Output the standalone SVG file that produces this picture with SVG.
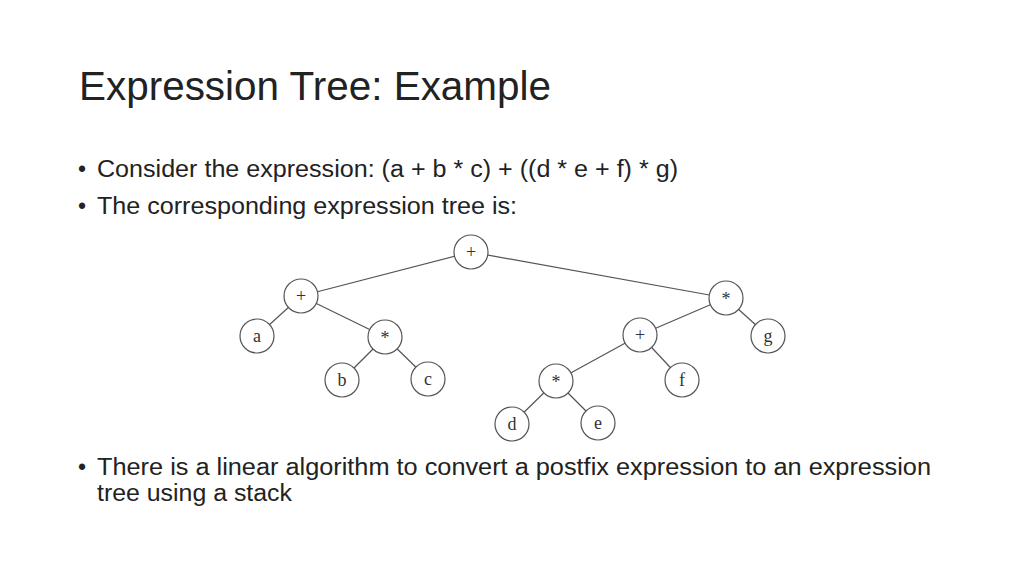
<svg xmlns="http://www.w3.org/2000/svg" width="1024" height="576" viewBox="0 0 1024 576">
<style>
.t{font-family:"Liberation Sans",Calibri,sans-serif;fill:#222}
.n circle{fill:#fff;stroke:#555;stroke-width:1.2}
.n text{font-family:"Liberation Serif",serif;font-size:18px;fill:#333;text-anchor:middle}
#edges line{stroke:#555;stroke-width:1.2}
</style>
<rect width="1024" height="576" fill="#fff"/>
<text class="t" x="79" y="100" font-size="40" fill="#333" textLength="472" lengthAdjust="spacingAndGlyphs">Expression Tree: Example</text>
<text class="t" x="78" y="177" font-size="23">•</text>
<text class="t" x="97" y="177" font-size="23" textLength="581" lengthAdjust="spacingAndGlyphs">Consider the expression: (a + b * c) + ((d * e + f) * g)</text>
<text class="t" x="78" y="214" font-size="23">•</text>
<text class="t" x="97" y="214" font-size="23" textLength="420" lengthAdjust="spacingAndGlyphs">The corresponding expression tree is:</text>
<text class="t" x="78" y="475" font-size="23">•</text>
<text class="t" x="97" y="475" font-size="23" textLength="834" lengthAdjust="spacingAndGlyphs">There is a linear algorithm to convert a postfix expression to an expression</text>
<text class="t" x="97" y="501" font-size="23" textLength="195" lengthAdjust="spacingAndGlyphs">tree using a stack</text>
<g id="edges">
<line x1="471" y1="252" x2="301" y2="296"/><line x1="471" y1="252" x2="726" y2="298"/>
<line x1="301" y1="296" x2="257" y2="336"/><line x1="301" y1="296" x2="385" y2="337"/>
<line x1="385" y1="337" x2="342" y2="380"/><line x1="385" y1="337" x2="428" y2="379"/>
<line x1="726" y1="298" x2="640" y2="335"/><line x1="726" y1="298" x2="768" y2="336"/>
<line x1="640" y1="335" x2="556" y2="381"/><line x1="640" y1="335" x2="682" y2="380"/>
<line x1="556" y1="381" x2="512" y2="424"/><line x1="556" y1="381" x2="598" y2="423"/>
</g>
<g class="n" id="n-root"><circle cx="471" cy="252" r="17"/><text x="471" y="258">+</text></g>
<g class="n" id="n-plus1"><circle cx="301" cy="296" r="17"/><text x="301" y="302">+</text></g>
<g class="n" id="n-a"><circle cx="257" cy="336" r="17"/><text x="257" y="342">a</text></g>
<g class="n" id="n-mul1"><circle cx="385" cy="337" r="17"/><text x="385" y="344">*</text></g>
<g class="n" id="n-b"><circle cx="342" cy="380" r="17"/><text x="342" y="386">b</text></g>
<g class="n" id="n-c"><circle cx="428" cy="379" r="17"/><text x="428" y="385">c</text></g>
<g class="n" id="n-mul2"><circle cx="726" cy="298" r="17"/><text x="726" y="305">*</text></g>
<g class="n" id="n-g"><circle cx="768" cy="336" r="17"/><text x="768" y="342">g</text></g>
<g class="n" id="n-plus2"><circle cx="640" cy="335" r="17"/><text x="640" y="341">+</text></g>
<g class="n" id="n-f"><circle cx="682" cy="380" r="17"/><text x="682" y="386">f</text></g>
<g class="n" id="n-mul3"><circle cx="556" cy="381" r="17"/><text x="556" y="388">*</text></g>
<g class="n" id="n-d"><circle cx="512" cy="424" r="17"/><text x="512" y="430">d</text></g>
<g class="n" id="n-e"><circle cx="598" cy="423" r="17"/><text x="598" y="429">e</text></g>
</svg>
